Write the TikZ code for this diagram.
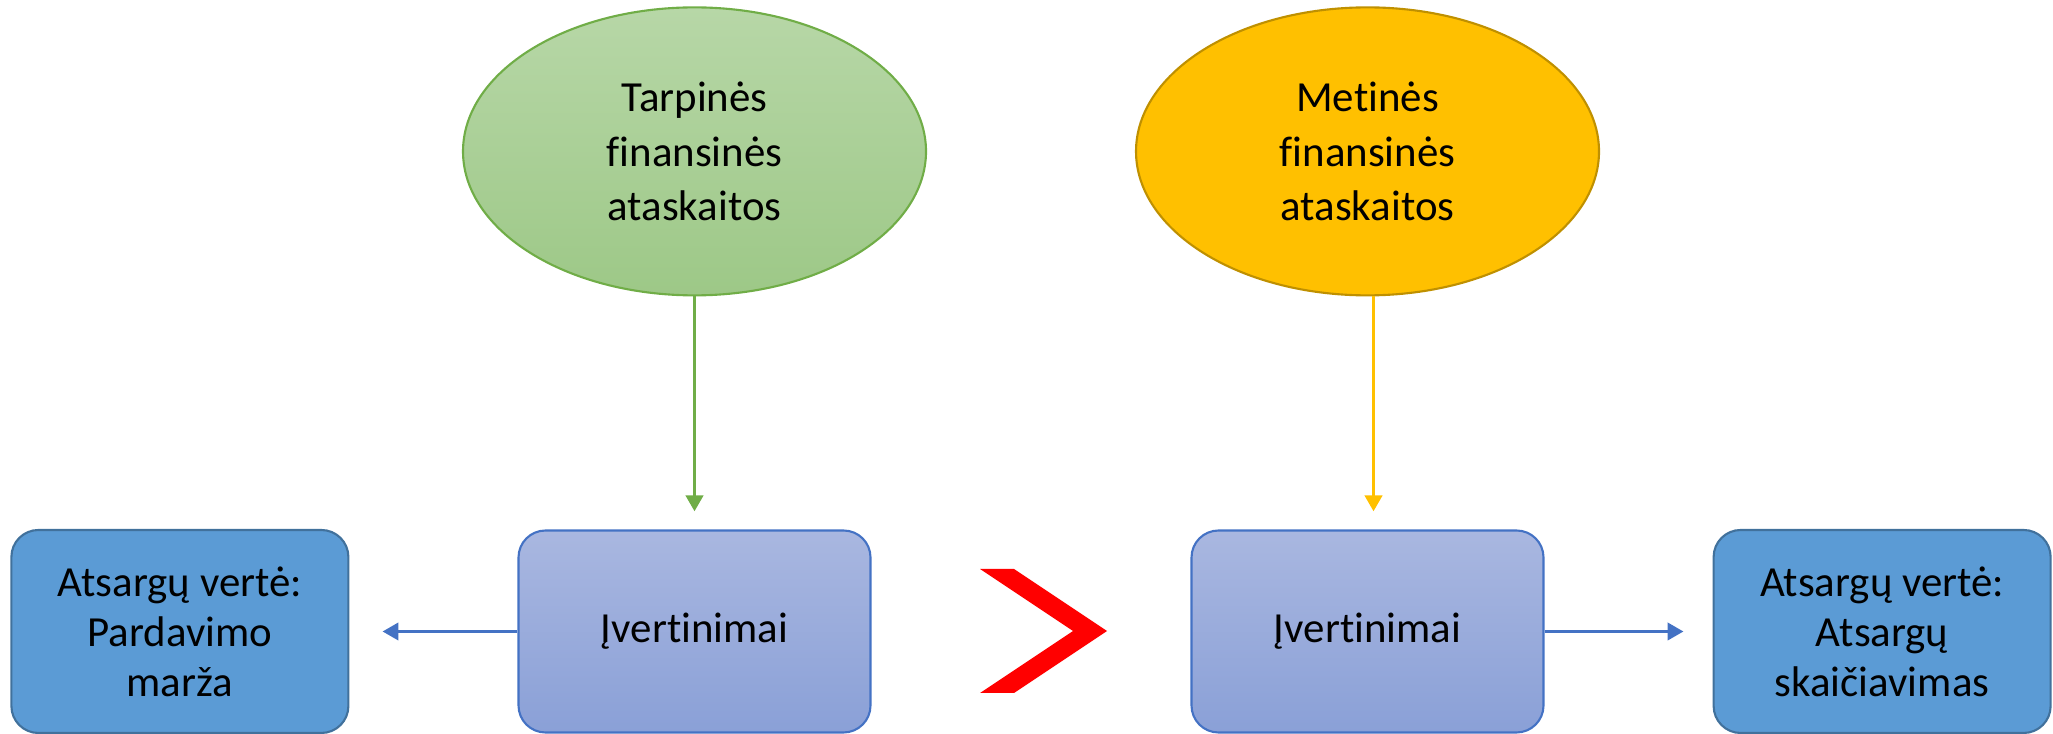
\documentclass[tikz,border=0pt]{standalone}
\usepackage{fontspec}
\setmainfont{Carlito}[Ligatures=NoCommon]
\usetikzlibrary{arrows.meta,positioning,shapes.geometric}
\definecolor{valfill}{HTML}{5B9BD5}
\definecolor{valborder}{HTML}{41719C}
\definecolor{esttop}{HTML}{A9B7E0}
\definecolor{estbot}{HTML}{8AA0D7}
\definecolor{estborder}{HTML}{4472C4}
\definecolor{greentop}{HTML}{B7D7A7}
\definecolor{greenbot}{HTML}{9DC887}
\definecolor{greenline}{HTML}{70AD47}
\definecolor{yelfill}{HTML}{FFC000}
\definecolor{yelborder}{HTML}{BF9000}

\begin{document}
\begin{tikzpicture}[
  node distance=1.68cm,
  valbox/.style={draw=valborder,line width=0.6pt,fill=valfill,rounded corners=0.27cm,align=center,minimum width=3.37cm,minimum height=2.03cm,inner sep=0pt,font=\fontsize{12.2}{14.2}\selectfont},
  estbox/.style={draw=estborder,line width=0.6pt,top color=esttop,bottom color=estbot,rounded corners=0.27cm,minimum width=3.52cm,minimum height=2.02cm,inner sep=0pt,font=\fontsize{12.2}{14.2}\selectfont},
  report/.style={ellipse,line width=0.6pt,minimum width=4.63cm,minimum height=2.88cm,inner sep=0pt,align=center,font=\fontsize{12.2}{15.6}\selectfont},
  arr/.style={line width=1.1pt,-{Triangle[length=1.6mm,width=1.7mm]}}
]
\useasboundingbox (0,0) rectangle (20.53,7.34);
\node[estbox] (est1) at (6.945,1.025) {Įvertinimai};
\node[estbox] (est2) at (13.675,1.025) {Įvertinimai};
\node[valbox,left=of est1] (val1) {Atsargų vertė:\\Pardavimo\\marža};
\node[valbox,right=of est2] (val2) {Atsargų vertė:\\Atsargų\\skaičiavimas};
\node[report,draw=greenline,top color=greentop,bottom color=greenbot,above=2.33cm of est1] (tarp) {Tarpinės\\finansinės\\ataskaitos};
\node[report,draw=yelborder,fill=yelfill,above=2.33cm of est2] (met) {Metinės\\finansinės\\ataskaitos};
\coordinate[left=1.35cm of est1.west] (l1);
\coordinate[right=1.39cm of est2.east] (r1);
\draw[arr,greenline,shorten >=0.18cm] (tarp) -- (est1);
\draw[arr,yelfill,shorten >=0.18cm] ([xshift=0.06cm]met.south) -- ([xshift=0.06cm]est2.north);
\draw[arr,estborder] (est1) -- (l1);
\draw[arr,estborder] (est2) -- (r1);
\fill[red] (9.80,1.65) -- (10.14,1.65) -- (11.07,1.03) -- (10.14,0.41) -- (9.80,0.41) -- (10.73,1.03) -- cycle;
\end{tikzpicture}
\end{document}
